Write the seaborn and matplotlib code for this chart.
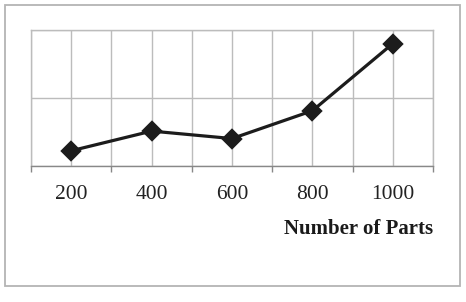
import matplotlib
matplotlib.use("Agg")
import matplotlib.pyplot as plt
import seaborn as sns
import pandas as pd
from matplotlib.patches import Rectangle

parts = ["200", "400", "600", "800", "1000"]
values = [0.22, 0.51, 0.40, 0.81, 1.80]
x_label = "Number of Parts"

sns.set_theme(style="white")
plt.rcParams["font.family"] = ["Liberation Serif", "DejaVu Serif"]

W, H = 466, 302
fig = plt.figure(figsize=(W / 100, H / 100), dpi=100)
fig.patch.set_facecolor("white")

# outer chart border
fig.patches.append(Rectangle((5 / W, 1 - 285.7 / H), 454.5 / W, 280.7 / H,
                             transform=fig.transFigure, fill=False,
                             edgecolor="#b4b4b4", linewidth=1.3, zorder=0))

ax = fig.add_axes([31 / W, 1 - 165.7 / H, 402 / W, 135.7 / H])

df = pd.DataFrame({"parts": parts, "value": values})
sns.pointplot(data=df, x="parts", y="value", order=parts, ax=ax,
              color="#1c1c1c", markers="D", markersize=8.8,
              linewidth=2.3, errorbar=None, zorder=5)

n = len(parts)
ax.set_xlim(-0.5, n - 0.5)
ax.set_ylim(0, 2)
ax.set_xticks(range(n))
ax.set_xticklabels(parts, fontsize=15.5, color="#222222")
ax.set_xticks([i - 0.5 for i in range(n + 1)], minor=True)
ax.tick_params(axis="x", which="major", length=0, pad=14)
ax.tick_params(axis="x", which="minor", length=4, width=1, color="#888888",
               bottom=True, direction="out")
ax.set_yticks([0, 1, 2])
ax.set_yticklabels([])
ax.tick_params(axis="y", length=0)

ax.grid(True, which="both", axis="x", color="#bcbcbc", linewidth=1)
ax.grid(True, which="major", axis="y", color="#bcbcbc", linewidth=1)
ax.set_axisbelow(True)

for side in ["top", "right", "left"]:
    ax.spines[side].set_visible(True)
    ax.spines[side].set_color("#bcbcbc")
    ax.spines[side].set_linewidth(1)
ax.spines["bottom"].set_color("#888888")
ax.spines["bottom"].set_linewidth(1)

ax.set_xlabel("")
ax.set_ylabel("")
fig.text(433 / W, 1 - 229 / H, x_label, ha="right", va="center",
         fontsize=15, fontweight="bold", color="#1a1a1a")

fig.savefig("out.png", dpi=100, facecolor="white")
